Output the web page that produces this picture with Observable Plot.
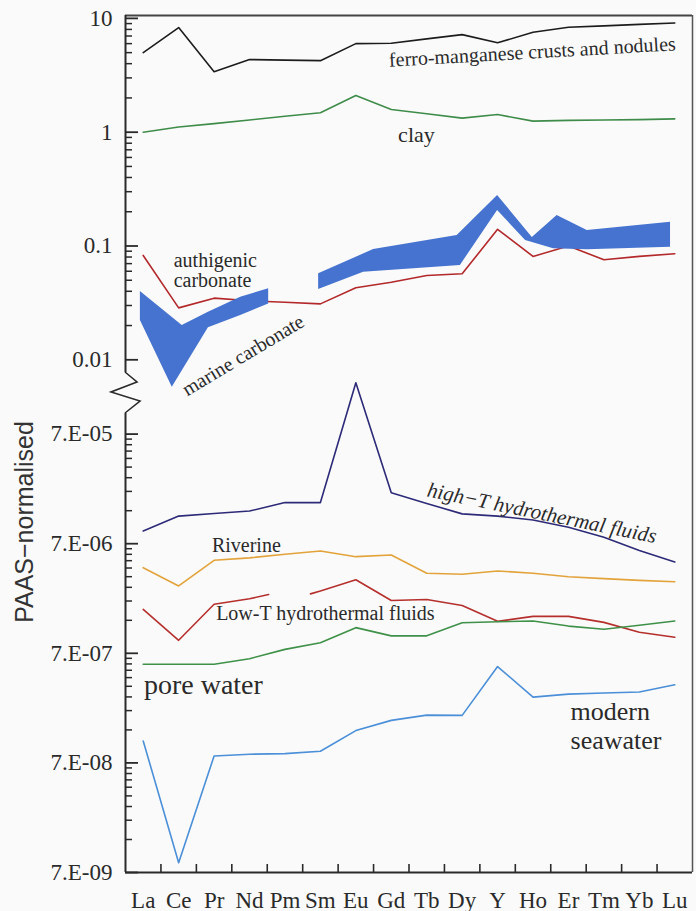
<!DOCTYPE html>
<html><head><meta charset="utf-8">
<script src="https://cdn.jsdelivr.net/npm/d3@7"></script>
<script src="https://cdn.jsdelivr.net/npm/@observablehq/plot@0.6"></script>
<style>
html,body{margin:0;padding:0;background:#fafafa;}
#chart{position:relative;width:696px;height:911px;}
#chart svg{position:absolute;left:0;top:0;overflow:visible;}
</style></head><body><div id="chart"></div>
<script>
// ---------- data ----------
const categories = ["La","Ce","Pr","Nd","Pm","Sm","Eu","Gd","Tb","Dy","Y","Ho","Er","Tm","Yb","Lu"];

// upper panel (0.01 – 10)
const ferroManganese = [5.0, 8.3, 3.4, 4.35, 4.3, 4.25, 6.0, 6.05, 6.6, 7.2, 6.1, 7.55, 8.35, 8.6, 8.85, 9.1];
const clay = [1.0, 1.11, 1.19, 1.28, 1.38, 1.48, 2.10, 1.58, 1.45, 1.33, 1.43, 1.25, 1.27, 1.28, 1.29, 1.31];
const authigenicCarbonate = [0.0826, 0.0286, 0.0348, 0.033, 0.032, 0.031, 0.043, 0.048, 0.055, 0.057, 0.14, 0.081, 0.10, 0.0757, 0.081, 0.0855];
// marine carbonate envelope: positions along the REE axis with lower / upper bounds
const marineSegment  = [1, 1, 1, 1, 1, 2, 2, 2, 2, 2, 2, 2, 2];
const marineLowerPos = [-0.08, 0.82, 1.84, 2.75, 3.54, 4.95, 6.22, 8.95, 10.0, 10.79, 11.58, 12.53, 14.88];
const marineLower    = [0.0221, 0.00574, 0.0191, 0.0245, 0.031, 0.0415, 0.0589, 0.0675, 0.205, 0.1117, 0.0944, 0.0926, 0.0976];
const marineUpperPos = [-0.08, 1.10, 1.84, 2.75, 3.54, 4.95, 6.5, 8.86, 10.0, 10.98, 11.68, 12.53, 14.88];
const marineUpper    = [0.0398, 0.0200, 0.0262, 0.0355, 0.0421, 0.057, 0.093, 0.1236, 0.278, 0.119, 0.185, 0.137, 0.162];

// lower panel (7E-09 – 7E-05)
const highTHydrothermal = [9.14e-6, 1.25e-5, 1.32e-5, 1.39e-5, 1.66e-5, 1.66e-5, 2.06e-4, 2.04e-5, 1.63e-5, 1.31e-5, 1.25e-5, 1.15e-5, 9.9e-6, 8.0e-6, 6.07e-6, 4.77e-6];
const riverine = [4.23e-6, 2.88e-6, 4.94e-6, 5.2e-6, 5.6e-6, 6.0e-6, 5.33e-6, 5.52e-6, 3.76e-6, 3.68e-6, 3.95e-6, 3.76e-6, 3.5e-6, 3.36e-6, 3.24e-6, 3.15e-6];
const lowTPos = [0, 1, 2, 3, 3.54, NaN, 4.72, 5, 6, 7, 8, 9, 10, 11, 12, 13, 14, 15];
const lowTHydrothermal = [1.76e-6, 9.2e-7, 1.96e-6, 2.2e-6, 2.41e-6, NaN, 2.44e-6, 2.59e-6, 3.28e-6, 2.12e-6, 2.17e-6, 1.91e-6, 1.37e-6, 1.52e-6, 1.52e-6, 1.34e-6, 1.09e-6, 9.8e-7];
const poreWater = [5.56e-7, 5.56e-7, 5.56e-7, 6.25e-7, 7.6e-7, 8.75e-7, 1.2e-6, 1.01e-6, 1.01e-6, 1.33e-6, 1.36e-6, 1.38e-6, 1.24e-6, 1.16e-6, 1.26e-6, 1.38e-6];
const modernSeawater = [1.11e-7, 8.6e-9, 8.09e-8, 8.4e-8, 8.5e-8, 8.95e-8, 1.38e-7, 1.71e-7, 1.91e-7, 1.9e-7, 5.3e-7, 2.79e-7, 2.97e-7, 3.04e-7, 3.1e-7, 3.61e-7];

// axis ticks
const topTickValues = [10, 1, 0.1, 0.01];
const topTickLabels = ["10", "1", "0.1", "0.01"];
const bottomTickValues = [7e-5, 7e-6, 7e-7, 7e-8, 7e-9];
const bottomTickLabels = ["7.E-05", "7.E-06", "7.E-07", "7.E-08", "7.E-09"];

// annotations (positions in data units)
const topNotes = [
  {text: "ferro-manganese crusts and nodules", x: 10.98, y: 5.06, size: 20, rotate: -3.3, anchor: "middle", lh: 1},
  {text: "clay", x: 7.71, y: 0.941, size: 22, rotate: 0, anchor: "middle", lh: 1},
  {text: "authigenic\ncarbonate", x: 0.86, y: 0.0605, size: 20, rotate: 0, anchor: "start", lh: 1},
  {text: "marine carbonate", x: 2.82, y: 0.01092, size: 20, rotate: -31, anchor: "middle", lh: 1}
];
const bottomNotes = [
  {text: "high\u2212T hydrothermal fluids", x: 11.25, y: 1.33e-5, size: 21, rotate: 11.6, anchor: "middle", italic: true, lh: 1},
  {text: "Riverine", x: 2.91, y: 6.7e-6, size: 20, rotate: 0, anchor: "middle", lh: 1},
  {text: "Low-T hydrothermal fluids", x: 5.14, y: 1.6e-6, size: 20, rotate: 0, anchor: "middle", lh: 1},
  {text: "pore water", x: 0.02, y: 3.62e-7, size: 28, rotate: 0, anchor: "start", lh: 1},
  {text: "modern\nseawater", x: 12.06, y: 1.56e-7, size: 26, rotate: 0, anchor: "start", lh: 1.12}
];
const yLabel = "PAAS\u2212normalised";

// ---------- layout ----------
const W = 696, H = 911;
const frameLeft = 125, frameRight = 692, frameTop = 15, topAxisEndPx = 372, lowerTop = 413, frameBottom = 872;
const xDomain = [-0.5, 15.5];
const topDomain = [0.003374, 10.6];
const bottomDomain = [7e-9, 1.079e-4];
const ux = (frameRight - frameLeft) / (xDomain[1] - xDomain[0]);
const topPxDec = (lowerTop - frameTop) / Math.log10(topDomain[1] / topDomain[0]);
const botPxDec = (frameBottom - lowerTop) / Math.log10(bottomDomain[1] / bottomDomain[0]);
const topAxisEnd = topDomain[0] * Math.pow(10, (lowerTop - topAxisEndPx) / topPxDec);
const minorLen = 7, majorLen = 13, xTickLen = 8;

const serif = '"Liberation Serif","Times New Roman",serif';
const sans = '"Liberation Sans",Arial,sans-serif';
const ink = "#2a2a2a";
const idx = d3.range(categories.length);

function minorTicks(majors) {
  const out = [];
  majors.forEach(m => { for (let k = 2; k <= 9; k++) out.push(m * k); });
  return out;
}
const topMinor = minorTicks([0.01, 0.1, 1]);
const bottomMinor = minorTicks([7e-9, 7e-8, 7e-7, 7e-6]);

const seriesLine = (values, stroke, w = 1.6) =>
  Plot.line(idx, {x: i => i, y: i => values[i], stroke, strokeWidth: w});

const noteMarks = notes => notes.map(n => Plot.text([n], {
  x: "x", y: "y", text: "text", rotate: n.rotate, textAnchor: n.anchor, lineHeight: n.lh,
  fontSize: n.size, fontFamily: serif, fontStyle: n.italic ? "italic" : "normal", fill: ink
}));

const yTickMarks = (majors, labels, minors) => [
  Plot.ruleY(minors, {y: d => d, x1: xDomain[0], x2: xDomain[0] + minorLen / ux, stroke: ink, strokeWidth: 1.5}),
  Plot.ruleY(majors, {y: d => d, x1: xDomain[0], x2: xDomain[0] + majorLen / ux, stroke: ink, strokeWidth: 1.8}),
  Plot.text(majors, {x: xDomain[0], y: d => d, text: (d, i) => labels[i], textAnchor: "end", dx: -13,
    fontSize: 23, fontFamily: serif, fill: ink})
];

const marineRows = marineSegment.map((s, i) => ({s, x1: marineLowerPos[i], y1: marineLower[i], x2: marineUpperPos[i], y2: marineUpper[i]}));

const common = {
  width: W, height: H, marginLeft: frameLeft, marginRight: W - frameRight,
  x: {type: "linear", domain: xDomain, axis: null},
  style: {background: "transparent", overflow: "visible", color: ink, fontFamily: serif}
};

const topPlot = Plot.plot({
  ...common,
  marginTop: frameTop, marginBottom: H - lowerTop,
  y: {type: "log", domain: topDomain, axis: null},
  marks: [
    Plot.ruleY([topDomain[1]], {stroke: "#444", strokeWidth: 1.8}),
    Plot.ruleX([xDomain[1]], {stroke: "#555", strokeWidth: 1.5}),
    Plot.ruleX([xDomain[0]], {y1: topDomain[1], y2: topAxisEnd, stroke: ink, strokeWidth: 2}),
    ...yTickMarks(topTickValues, topTickLabels, topMinor),
    seriesLine(ferroManganese, "#1c1c1c"),
    seriesLine(clay, "#3f8c4a"),
    seriesLine(authigenicCarbonate, "#b3282a"),
    Plot.area(marineRows, {x1: "x1", y1: "y1", x2: "x2", y2: "y2", z: "s", fill: "#4673cf"}),
    ...noteMarks(topNotes)
  ]
});

const bottomPlot = Plot.plot({
  ...common,
  marginTop: lowerTop, marginBottom: H - frameBottom,
  y: {type: "log", domain: bottomDomain, axis: null},
  marks: [
    Plot.ruleY([bottomDomain[0]], {stroke: ink, strokeWidth: 2}),
    Plot.ruleX([xDomain[1]], {stroke: "#555", strokeWidth: 1.5}),
    Plot.ruleX([xDomain[0]], {stroke: ink, strokeWidth: 2}),
    ...yTickMarks(bottomTickValues, bottomTickLabels, bottomMinor),
    Plot.ruleX(d3.range(categories.length - 1).map(i => i + 0.5), {
      x: d => d, y1: bottomDomain[0], y2: bottomDomain[0] * Math.pow(10, xTickLen / botPxDec), stroke: ink, strokeWidth: 1.6}),
    Plot.axisX(idx, {anchor: "bottom", tickSize: 0, tickPadding: 19, label: null,
      tickFormat: i => categories[i], fontSize: 23, fontFamily: serif}),
    seriesLine(highTHydrothermal, "#2d2a78"),
    seriesLine(riverine, "#e3a33b"),
    Plot.line(lowTPos.map((p, i) => ({p, v: lowTHydrothermal[i]})), {x: "p", y: "v", stroke: "#b5302d", strokeWidth: 1.6}),
    seriesLine(poreWater, "#3f9149"),
    seriesLine(modernSeawater, "#4a8fd8"),
    ...noteMarks(bottomNotes),
    Plot.text([yLabel], {x: xDomain[0], y: 1.105e-5, dx: -101, rotate: -90, text: d => d,
      fontSize: 25, fontFamily: sans, fill: "#333"})
  ]
});

const chart = document.getElementById("chart");
chart.appendChild(topPlot);
chart.appendChild(bottomPlot);

// axis-break zigzag between the two panels (decoration, pixel offsets from the axis)
const ax = bottomPlot.scale("x").apply(xDomain[0]);
const zig = [[0, topAxisEndPx], [12, 382], [-14, 392], [15, 401], [0, lowerTop]];
d3.select(bottomPlot).append("path")
  .attr("d", d3.line()(zig.map(([dx, y]) => [ax + dx, y])))
  .attr("fill", "none").attr("stroke", ink).attr("stroke-width", 1.6);
</script></body></html>
